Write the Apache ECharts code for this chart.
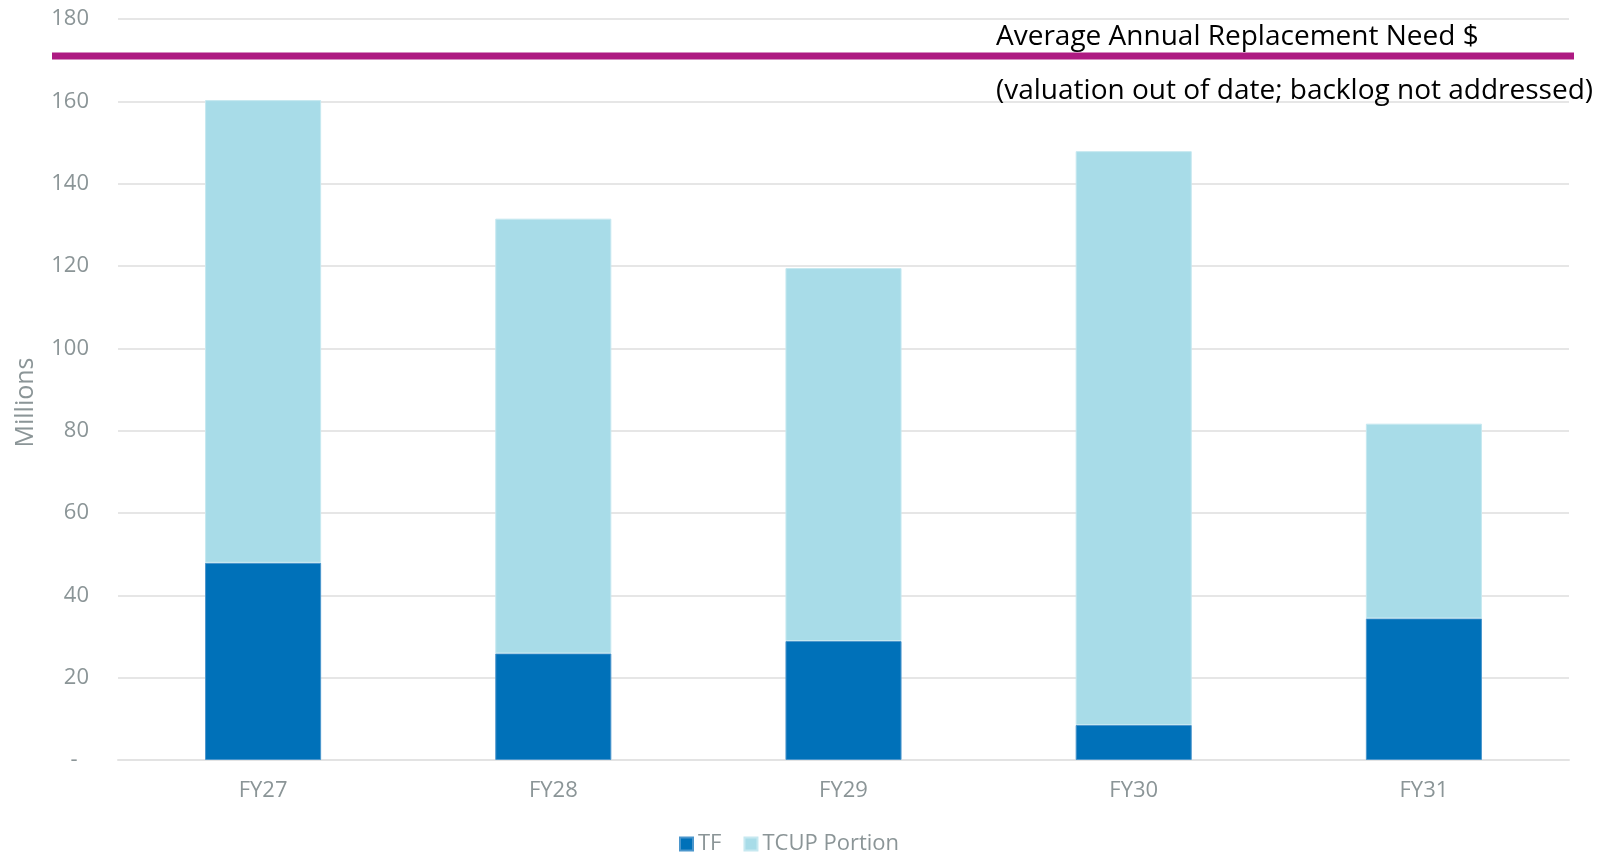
<!DOCTYPE html>
<html>
<head>
<meta charset="utf-8">
<script src="https://cdn.jsdelivr.net/npm/echarts@6/dist/echarts.min.js"></script>
<style>
html,body{margin:0;padding:0;background:#fff;}
#chart{width:1610px;height:855px;}
</style>
</head>
<body>
<div id="chart"></div>
<script>
const categories = ['FY27', 'FY28', 'FY29', 'FY30', 'FY31'];
const tfValues = [47.9, 25.9, 28.9, 8.5, 34.4];
const tcupValues = [112.4, 105.6, 90.6, 139.4, 47.3];
const replacementNeed = 171;
const yTicks = [0, 20, 40, 60, 80, 100, 120, 140, 160, 180];
const seriesNames = ['TF', 'TCUP Portion'];
const annotationLines = ['Average Annual Replacement Need $', '(valuation out of date; backlog not addressed)'];

const FONT = '"Open Sans", "Noto Sans", sans-serif';
const GRAY = '#8B9597';

const chart = echarts.init(document.getElementById('chart'), null, {renderer: 'canvas'});
const option = {
  animation: false,
  backgroundColor: '#ffffff',
  textStyle: {fontFamily: FONT},
  grid: [
    {left: 118, right: 41, top: 19, bottom: 95, containLabel: false},
    {left: 52, right: 36, top: 19, bottom: 95, containLabel: false}
  ],
  legend: {
    data: seriesNames,
    left: 674,
    top: 828,
    icon: 'rect',
    itemWidth: 13,
    itemHeight: 13,
    itemGap: 22,
    itemTextGap: 5,
    textStyle: {color: GRAY, fontSize: 22, fontFamily: FONT}
  },
  xAxis: [
    {
      type: 'category',
      gridIndex: 0,
      data: categories,
      axisTick: {show: false},
      axisLine: {show: true, lineStyle: {color: '#E3E3E3', width: 2}},
      axisLabel: {color: GRAY, fontSize: 22, margin: 20, fontFamily: FONT}
    },
    {
      type: 'value', gridIndex: 1, min: 0, max: 1, show: false
    }
  ],
  yAxis: [
    {
      type: 'value',
      gridIndex: 0,
      min: 0,
      max: 180,
      interval: 20,
      name: 'Millions',
      nameLocation: 'middle',
      nameGap: 80,
      nameRotate: 90,
      nameTextStyle: {color: GRAY, fontSize: 25, fontFamily: FONT, padding: [0, 26, 0, 0]},
      axisLine: {show: false},
      axisTick: {show: false},
      splitLine: {show: true, lineStyle: {color: '#E6E6E6', width: 2}},
      axisLabel: {
        color: GRAY, fontSize: 22, margin: 29, fontFamily: FONT,
        formatter: function (v) { return yTicks.indexOf(v) === 0 ? '-  ' : String(v); }
      }
    },
    {
      type: 'value', gridIndex: 1, min: 0, max: 180, show: false
    }
  ],
  series: [
    {
      name: seriesNames[0],
      type: 'bar',
      stack: 'total',
      xAxisIndex: 0, yAxisIndex: 0,
      data: tfValues,
      barWidth: '40%',
      itemStyle: {color: '#0071B9', borderColor: '#4B96CC', borderWidth: 1}
    },
    {
      name: seriesNames[1],
      type: 'bar',
      stack: 'total',
      xAxisIndex: 0, yAxisIndex: 0,
      data: tcupValues,
      barWidth: '40%',
      itemStyle: {color: '#A8DCE8', borderColor: '#C6E8F0', borderWidth: 1}
    },
    {
      name: 'Replacement',
      type: 'line',
      xAxisIndex: 1, yAxisIndex: 1,
      data: [[0, replacementNeed], [1, replacementNeed]],
      symbol: 'none',
      silent: true,
      lineStyle: {color: '#AE1A82', width: 7},
      z: 5
    }
  ]
};
chart.setOption(option);

const yLine = chart.convertToPixel({yAxisIndex: 1}, replacementNeed);
chart.setOption({
  graphic: [
    {
      type: 'text', left: 996, top: yLine - 33,
      style: {text: annotationLines[0], fill: '#000000', font: '28px ' + FONT}
    },
    {
      type: 'text', left: 996, top: yLine + 21,
      style: {text: annotationLines[1], fill: '#000000', font: '28px ' + FONT}
    }
  ]
});
</script>
</body>
</html>
